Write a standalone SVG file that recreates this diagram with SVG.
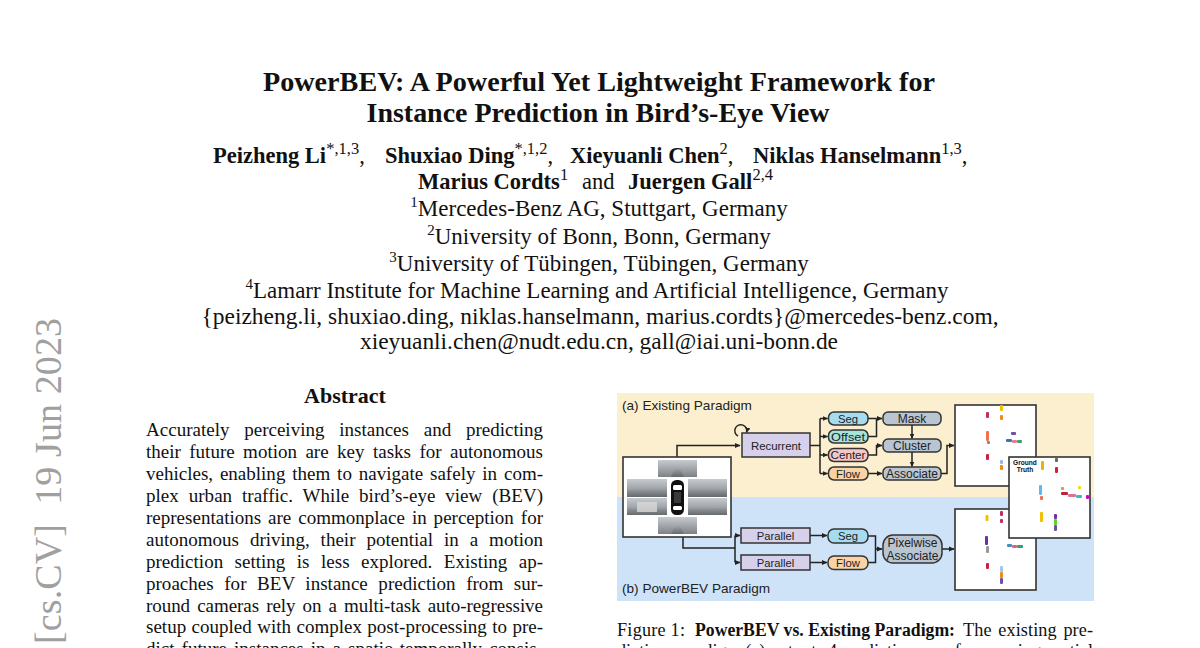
<svg xmlns="http://www.w3.org/2000/svg" width="1200" height="648" viewBox="0 0 1200 648">
<style>
.serif{font-family:"Liberation Serif","Times New Roman",serif;fill:#111}
.b{font-weight:bold}
.sans{font-family:"Liberation Sans",Arial,sans-serif;fill:#222}
.ln{fill:none;stroke:#222;stroke-width:1.5}
.arr{fill:none;stroke:#222;stroke-width:1.5;marker-end:url(#ah)}
.box{stroke:#333;stroke-width:1.5}
.lav{fill:#d6d0ea}
.gry{fill:#b9c5d1}
.out{fill:#fff;stroke:#333;stroke-width:1.6}
.cam{fill:url(#camg)}
.road{fill:url(#roadg)}
</style>
<defs>
<marker id="ah" markerWidth="6" markerHeight="6" refX="5" refY="3" orient="auto" markerUnits="userSpaceOnUse">
<path d="M0,0.5 L5.5,3 L0,5.5 Z" fill="#222"/>
</marker>
<linearGradient id="camg" x1="0" y1="0" x2="0" y2="1">
<stop offset="0" stop-color="#c6cbd0"/>
<stop offset="0.5" stop-color="#a3a7ab"/>
<stop offset="1" stop-color="#7e8184"/>
</linearGradient>
<linearGradient id="roadg" x1="0" y1="0" x2="0" y2="1">
<stop offset="0" stop-color="#6f7377" stop-opacity="0.0"/>
<stop offset="1" stop-color="#5e6164" stop-opacity="0.7"/>
</linearGradient>
</defs>
<rect width="1200" height="648" fill="#fff"/>

<!-- arXiv stamp -->
<text class="serif" transform="translate(61,318) rotate(-90)" text-anchor="end" font-size="38" style="fill:#a0a0a0" textLength="326" lengthAdjust="spacing" xml:space="preserve">[cs.CV]  19 Jun 2023</text>

<!-- Title -->
<g id="title">
<text class="serif b" x="599" y="91" text-anchor="middle" font-size="27.5" textLength="672" lengthAdjust="spacingAndGlyphs">PowerBEV: A Powerful Yet Lightweight Framework for</text>
<text class="serif b" x="598" y="122" text-anchor="middle" font-size="27.5" textLength="463" lengthAdjust="spacingAndGlyphs">Instance Prediction in Bird’s-Eye View</text>
</g>

<!-- Authors -->
<g id="authors">
<text class="serif b" x="213" y="163" font-size="22.5">Peizheng Li<tspan font-weight="normal" font-size="16.5" dy="-9">*,1,3</tspan><tspan font-weight="normal" dy="9">,</tspan></text>
<text class="serif b" x="385" y="163" font-size="22.5">Shuxiao Ding<tspan font-weight="normal" font-size="16.5" dy="-9">*,1,2</tspan><tspan font-weight="normal" dy="9">,</tspan></text>
<text class="serif b" x="570" y="163" font-size="22.5">Xieyuanli Chen<tspan font-weight="normal" font-size="16.5" dy="-9">2</tspan><tspan font-weight="normal" dy="9">,</tspan></text>
<text class="serif b" x="753" y="163" font-size="22.5">Niklas Hanselmann<tspan font-weight="normal" font-size="16.5" dy="-9">1,3</tspan><tspan font-weight="normal" dy="9">,</tspan></text>
<text class="serif b" x="418" y="189" font-size="22.5">Marius Cordts<tspan font-weight="normal" font-size="16.5" dy="-9">1</tspan></text>
<text class="serif" x="582" y="189" font-size="22.5">and</text>
<text class="serif b" x="628" y="189" font-size="22.5">Juergen Gall<tspan font-weight="normal" font-size="16.5" dy="-9">2,4</tspan></text>
</g>

<!-- Affiliations -->
<g id="affiliations">
<text class="serif" x="599" y="216" text-anchor="middle" font-size="23"><tspan font-size="15" dy="-9">1</tspan><tspan dy="9">Mercedes-Benz AG, Stuttgart, Germany</tspan></text>
<text class="serif" x="599" y="244" text-anchor="middle" font-size="23"><tspan font-size="15" dy="-9">2</tspan><tspan dy="9">University of Bonn, Bonn, Germany</tspan></text>
<text class="serif" x="599" y="271" text-anchor="middle" font-size="23"><tspan font-size="15" dy="-9">3</tspan><tspan dy="9">University of Tübingen, Tübingen, Germany</tspan></text>
<text class="serif" x="597" y="298" text-anchor="middle" font-size="23"><tspan font-size="15" dy="-9">4</tspan><tspan dy="9">Lamarr Institute for Machine Learning and Artificial Intelligence, Germany</tspan></text>
<text class="serif" x="600" y="324" text-anchor="middle" font-size="23" textLength="797" lengthAdjust="spacingAndGlyphs">{peizheng.li, shuxiao.ding, niklas.hanselmann, marius.cordts}@mercedes-benz.com,</text>
<text class="serif" x="599" y="349" text-anchor="middle" font-size="23" textLength="478" lengthAdjust="spacingAndGlyphs">xieyuanli.chen@nudt.edu.cn, gall@iai.uni-bonn.de</text>
</g>

<!-- Abstract -->
<g id="abstract" font-size="19">
<text class="serif b" x="345" y="403" text-anchor="middle" font-size="22">Abstract</text>
<text class="serif" x="146" y="436" word-spacing="10" textLength="397" lengthAdjust="spacing">Accurately perceiving instances and predicting</text>
<text class="serif" x="146" y="458" word-spacing="3.7" textLength="397" lengthAdjust="spacing">their future motion are key tasks for autonomous</text>
<text class="serif" x="146" y="480" word-spacing="2.1" textLength="397" lengthAdjust="spacing">vehicles, enabling them to navigate safely in com-</text>
<text class="serif" x="146" y="502" word-spacing="5" textLength="397" lengthAdjust="spacing">plex urban traffic. While bird’s-eye view (BEV)</text>
<text class="serif" x="146" y="524" word-spacing="2.2" textLength="397" lengthAdjust="spacing">representations are commonplace in perception for</text>
<text class="serif" x="146" y="545.5" word-spacing="6.2" textLength="397" lengthAdjust="spacing">autonomous driving, their potential in a motion</text>
<text class="serif" x="146" y="567.5" word-spacing="6.7" textLength="397" lengthAdjust="spacing">prediction setting is less explored. Existing ap-</text>
<text class="serif" x="146" y="589.5" word-spacing="5.8" textLength="397" lengthAdjust="spacing">proaches for BEV instance prediction from sur-</text>
<text class="serif" x="146" y="611.5" word-spacing="2.4" textLength="397" lengthAdjust="spacing">round cameras rely on a multi-task auto-regressive</text>
<text class="serif" x="146" y="633" word-spacing="0.7" textLength="397" lengthAdjust="spacing">setup coupled with complex post-processing to pre-</text>
<text class="serif" x="146" y="655" word-spacing="2.3" textLength="397" lengthAdjust="spacing">dict future instances in a spatio-temporally consis-</text>
</g>

<!-- Figure backgrounds -->
<rect x="617" y="393" width="477" height="104" fill="#fcefcf"/>
<rect x="617" y="497" width="477" height="104" fill="#cee3f8"/>
<text class="sans" x="622" y="410" font-size="13.6">(a) Existing Paradigm</text>
<text class="sans" x="622" y="593" font-size="13.6">(b) PowerBEV Paradigm</text>

<!-- Connectors -->
<g id="connectors">
<path class="arr" d="M677,457 V445.5 H740"/>
<path class="arr" d="M738,436 A6,6 0 1,1 746.5,432.5"/>
<path class="ln" d="M810,445.5 H820" stroke-width="2.2"/>
<path class="ln" d="M820,418.5 V473.5"/>
<path class="arr" d="M820,418.5 H827.5"/>
<path class="arr" d="M820,436.5 H827.5"/>
<path class="arr" d="M820,455 H827.5"/>
<path class="arr" d="M820,473.5 H827.5"/>
<path class="ln" d="M868,418.5 H876.5"/>
<path class="ln" d="M868,436.5 H876.5 V418.5"/>
<path class="arr" d="M876.5,418.5 H882"/>
<path class="arr" d="M868,455 H876.5 V445.5 H882"/>
<path class="arr" d="M868,473.5 H882"/>
<path class="arr" d="M912,425 V438.5"/>
<path class="arr" d="M912,452 V466.5"/>
<path class="arr" d="M941,473.5 H947 V445.5 H954"/>
<path class="ln" d="M683,537 V548 H735"/>
<path class="ln" d="M735,535.5 V562.5"/>
<path class="arr" d="M735,535.5 H740"/>
<path class="arr" d="M735,562.5 H740"/>
<path class="arr" d="M810,535.5 H827"/>
<path class="arr" d="M810,562.5 H827"/>
<path class="ln" d="M868,536 H875.5 V562.5 H868"/>
<path class="arr" d="M875.5,549 H882"/>
<path class="arr" d="M942,549 H954"/>
</g>

<!-- Input camera images -->
<g id="input">
<rect x="623" y="457" width="108" height="80" class="out"/>
<rect x="658" y="460" width="39" height="17" class="cam"/>
<rect x="627" y="479" width="40" height="18" class="cam"/>
<rect x="688" y="479" width="39" height="18" class="cam"/>
<rect x="627" y="498" width="40" height="17" class="cam"/>
<rect x="688" y="498" width="39" height="17" class="cam"/>
<rect x="658" y="517" width="39" height="17" class="cam"/>
<path class="road" d="M671,477 L675,468 H680 L684,477 Z"/>
<path class="road" d="M627,497 V490 L667,488 V497 Z"/>
<path class="road" d="M688,497 V488 L727,490 V497 Z"/>
<path class="road" d="M627,515 V508 L667,507 V515 Z"/>
<path class="road" d="M688,515 V507 L727,508 V515 Z"/>
<path class="road" d="M671,534 L675,526 H680 L684,534 Z"/>
<rect x="637" y="502" width="20" height="10" fill="#d8d8d8" opacity="0.8"/>
<rect x="671" y="480" width="13" height="35" rx="5.5" fill="#111"/>
<rect x="673" y="485" width="9" height="5" rx="1.5" fill="#fff"/>
<rect x="673" y="506" width="9" height="4" rx="1.5" fill="#fff"/>
<rect x="674" y="492" width="7" height="11" fill="#3a3a3a"/>
</g>

<!-- (a) nodes -->
<g id="recurrent"><rect x="742" y="433" width="68" height="24" class="box lav"/><text class="sans" x="776" y="449.5" text-anchor="middle" font-size="11.4">Recurrent</text></g>
<g id="seg-a"><rect x="828.5" y="412" width="39.5" height="13" rx="5.5" class="box" fill="#a6dcef"/><text class="sans" x="848" y="422.5" text-anchor="middle" font-size="11.3">Seg</text></g>
<g id="offset-a"><rect x="828.5" y="430" width="39.5" height="13" rx="5.5" class="box" fill="#a6e3da"/><text class="sans" x="848" y="440.5" text-anchor="middle" font-size="11.3" textLength="34" lengthAdjust="spacingAndGlyphs">Offset</text></g>
<g id="center-a"><rect x="828.5" y="448.5" width="39.5" height="13" rx="5.5" class="box" fill="#f5c8c8"/><text class="sans" x="848" y="459" text-anchor="middle" font-size="11.3" textLength="35" lengthAdjust="spacingAndGlyphs">Center</text></g>
<g id="flow-a"><rect x="828.5" y="467" width="39.5" height="13" rx="5.5" class="box" fill="#f9d3a6"/><text class="sans" x="848" y="477.5" text-anchor="middle" font-size="11.3">Flow</text></g>
<g id="mask"><rect x="883" y="412" width="58" height="13" rx="5" class="box gry"/><text class="sans" x="912" y="422.5" text-anchor="middle" font-size="12">Mask</text></g>
<g id="cluster"><rect x="883" y="439" width="58" height="13" rx="5" class="box gry"/><text class="sans" x="912" y="449.5" text-anchor="middle" font-size="12">Cluster</text></g>
<g id="associate"><rect x="883" y="467" width="58" height="13" rx="5" class="box gry"/><text class="sans" x="912" y="477.5" text-anchor="middle" font-size="12">Associate</text></g>

<!-- (a) output -->
<g id="output-a">
<rect x="955" y="405" width="81" height="81" class="out"/>
<rect x="986" y="412" width="3" height="6" rx="1" fill="#c0305a"/>
<rect x="1000" y="405" width="3" height="6" rx="1" fill="#f2c000"/>
<rect x="1000" y="415" width="3" height="5" rx="1" fill="#f08a20"/>
<rect x="986" y="431" width="3" height="10" rx="1" fill="#f07050"/>
<rect x="987" y="441" width="3" height="3" rx="1" fill="#888"/>
<rect x="1011" y="432" width="5" height="3" rx="1" fill="#7050a0"/>
<rect x="1006" y="439" width="6" height="3" rx="1" fill="#3a70c0"/>
<rect x="1012" y="440" width="5" height="3" rx="1" fill="#e08090"/>
<rect x="1017" y="440" width="5" height="3" rx="1" fill="#40a070"/>
<rect x="986" y="454" width="3" height="6" rx="1" fill="#d02040"/>
<rect x="1000" y="460" width="3" height="4" rx="1" fill="#90b8e0"/>
<rect x="1000" y="465" width="3" height="5" rx="1" fill="#f08a20"/>
</g>
<!-- (b) nodes -->
<g id="parallel-1"><rect x="741" y="528" width="69" height="15" class="box lav"/><text class="sans" x="775.5" y="540" text-anchor="middle" font-size="11.2">Parallel</text></g>
<g id="parallel-2"><rect x="741" y="555" width="69" height="15" class="box lav"/><text class="sans" x="775.5" y="567" text-anchor="middle" font-size="11.2">Parallel</text></g>
<g id="seg-b"><rect x="828" y="529" width="40" height="14" rx="6" class="box" fill="#a6dcef"/><text class="sans" x="848" y="540" text-anchor="middle" font-size="11.3">Seg</text></g>
<g id="flow-b"><rect x="828" y="556" width="40" height="13.5" rx="6" class="box" fill="#f9d3a6"/><text class="sans" x="848" y="567" text-anchor="middle" font-size="11.3">Flow</text></g>
<g id="pixelwise"><rect x="883" y="535" width="59" height="28" rx="10" class="box gry"/><text class="sans" x="912.5" y="546.5" text-anchor="middle" font-size="12">Pixelwise</text><text class="sans" x="912.5" y="559.5" text-anchor="middle" font-size="12">Associate</text></g>

<!-- (b) output -->
<g id="output-b">
<rect x="955" y="509" width="81" height="81" class="out"/>
<rect x="985.5" y="515" width="3" height="6" rx="1" fill="#f2c000"/>
<rect x="1000" y="511" width="3" height="5" rx="1" fill="#c0305a"/>
<rect x="1000" y="519" width="3" height="4" rx="1" fill="#c0305a"/>
<rect x="985" y="536" width="3" height="9" rx="1" fill="#7030a0"/>
<rect x="986" y="546" width="3" height="7" rx="1" fill="#999"/>
<rect x="1011" y="535" width="4" height="3" rx="1" fill="#f08a20"/>
<rect x="1007" y="544" width="5" height="3" rx="1" fill="#4090c0"/>
<rect x="1012" y="545" width="5" height="3" rx="1" fill="#e06080"/>
<rect x="1017" y="545" width="6" height="3" rx="1" fill="#30a070"/>
<rect x="986" y="563" width="3" height="6" rx="1" fill="#d02040"/>
<rect x="1000" y="566" width="3" height="6" rx="1" fill="#a0c8e8"/>
<rect x="1000" y="572" width="3" height="6" rx="1" fill="#f08a20"/>
<rect x="1000" y="578" width="3" height="6" rx="1" fill="#7050a0"/>
</g>

<!-- Ground truth -->
<g id="ground-truth">
<rect x="1009" y="457" width="81" height="81" class="out"/>
<text class="sans b" x="1025" y="464.5" text-anchor="middle" font-size="6.6" style="fill:#111">Ground</text>
<text class="sans b" x="1025" y="472" text-anchor="middle" font-size="6.6" style="fill:#111">Truth</text>
<rect x="1041" y="461" width="3" height="9" rx="1" fill="#f2b000"/>
<rect x="1055" y="458" width="3" height="4" rx="1" fill="#666"/>
<rect x="1055" y="467" width="3" height="6" rx="1" fill="#d02040"/>
<rect x="1039" y="485" width="3" height="10" rx="1" fill="#60b8f0"/>
<rect x="1040" y="496" width="3" height="4" rx="1" fill="#f07050"/>
<rect x="1061" y="492" width="7" height="3" rx="1" fill="#c02040"/>
<rect x="1068" y="494" width="8" height="3" rx="1" fill="#e07090"/>
<rect x="1076" y="495" width="6" height="3" rx="1" fill="#30c0c0"/>
<rect x="1061" y="487" width="3" height="3" rx="1" fill="#d8a020"/>
<rect x="1078" y="486" width="3" height="3" rx="1" fill="#f2e000"/>
<rect x="1086" y="495" width="3" height="4" rx="1" fill="#d000d0"/>
<rect x="1040" y="512" width="3" height="10" rx="1" fill="#f2c000"/>
<rect x="1054" y="514" width="3" height="5" rx="1" fill="#7030a0"/>
<rect x="1054" y="519" width="3" height="6" rx="1" fill="#60d030"/>
<rect x="1054" y="525" width="3" height="6" rx="1" fill="#7050a0"/>
</g>

<!-- Caption -->
<g id="caption" font-size="18.2">
<text class="serif" x="617" y="636" textLength="68" lengthAdjust="spacing">Figure 1:</text>
<text class="serif b" x="695" y="636" textLength="260" lengthAdjust="spacingAndGlyphs">PowerBEV vs. Existing Paradigm:</text>
<text class="serif" x="963" y="636" word-spacing="2" textLength="130" lengthAdjust="spacing">The existing pre-</text>
<text class="serif" x="617" y="657" textLength="476" lengthAdjust="spacing">diction paradigm (a) outputs 4 predictions per frame using spatial</text>
</g>
</svg>
